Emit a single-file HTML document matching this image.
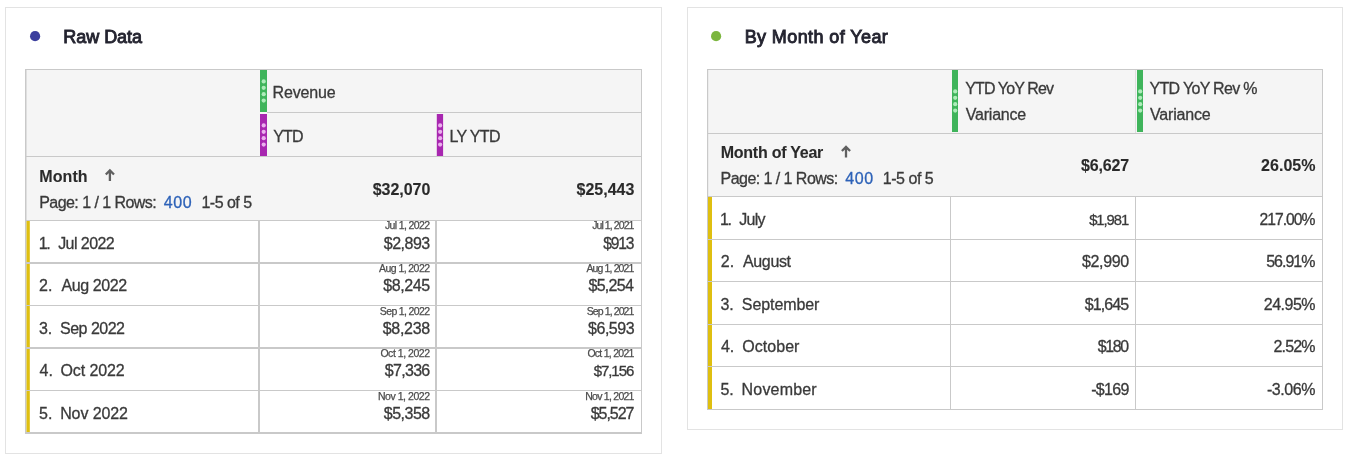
<!DOCTYPE html>
<html lang="en"><head><meta charset="utf-8"><title>Workspace panels</title>
<style>
html,body{margin:0;padding:0;background:#fff;}
body{width:1351px;height:465px;overflow:hidden;font-family:'Liberation Sans', sans-serif;}
svg{display:block;font-family:'Liberation Sans', sans-serif;}
text{white-space:pre;}
</style></head><body>
<svg width="1351" height="465" viewBox="0 0 1351 465">
<rect x="5.5" y="7.5" width="656" height="446" fill="#fff" stroke="#e3e3e3" stroke-width="1"/>
<rect x="687.5" y="7.5" width="655" height="422" fill="#fff" stroke="#e3e3e3" stroke-width="1"/>
<circle cx="35.1" cy="36.2" r="5.1" fill="#3c3f9e"/>
<text x="63.28" y="42.6" font-size="18" font-weight="normal" fill="#242430" textLength="78.80" lengthAdjust="spacing" stroke="#242430" stroke-width="0.9">Raw Data</text>
<circle cx="716.1" cy="36.2" r="5.1" fill="#7cb63f"/>
<text x="744.66" y="42.9" font-size="18" font-weight="normal" fill="#242430" textLength="143.13" lengthAdjust="spacing" stroke="#242430" stroke-width="0.9">By Month of Year</text>
<rect x="25" y="69" width="617" height="152" fill="#f5f5f5" />
<rect x="25" y="69" width="617" height="1" fill="#c9c9c9" />
<rect x="25" y="69" width="1.5" height="365" fill="#c9c9c9" />
<rect x="641" y="69" width="1" height="365" fill="#c9c9c9" />
<rect x="267" y="112" width="375" height="1" fill="#c9c9c9" />
<rect x="25" y="156" width="617" height="1" fill="#c9c9c9" />
<rect x="25" y="220" width="617" height="1" fill="#c9c9c9" />
<rect x="25" y="262" width="617" height="2" fill="#c9c9c9" />
<rect x="25" y="305" width="617" height="1" fill="#c9c9c9" />
<rect x="25" y="347" width="617" height="2" fill="#c9c9c9" />
<rect x="25" y="390" width="617" height="1" fill="#c9c9c9" />
<rect x="25" y="432" width="617" height="2" fill="#c9c9c9" />
<rect x="258" y="221" width="2" height="212" fill="#c9c9c9" />
<rect x="435" y="221" width="2" height="212" fill="#c9c9c9" />
<rect x="26.5" y="221" width="3.3" height="41" fill="#dfbf10" />
<rect x="26.5" y="264" width="3.3" height="41" fill="#dfbf10" />
<rect x="26.5" y="306" width="3.3" height="41" fill="#dfbf10" />
<rect x="26.5" y="349" width="3.3" height="41" fill="#dfbf10" />
<rect x="26.5" y="391" width="3.3" height="41" fill="#dfbf10" />
<rect x="260" y="70" width="7" height="42" fill="#3fb45b" />
<circle cx="263.70" cy="81.40" r="2.1" fill="#aeecba"/>
<circle cx="263.70" cy="87.80" r="2.1" fill="#aeecba"/>
<circle cx="263.70" cy="94.20" r="2.1" fill="#aeecba"/>
<circle cx="263.70" cy="100.60" r="2.1" fill="#aeecba"/>
<rect x="260" y="114" width="7" height="42" fill="#a827b0" />
<circle cx="263.70" cy="125.40" r="2.1" fill="#ebb0ee"/>
<circle cx="263.70" cy="131.80" r="2.1" fill="#ebb0ee"/>
<circle cx="263.70" cy="138.20" r="2.1" fill="#ebb0ee"/>
<circle cx="263.70" cy="144.60" r="2.1" fill="#ebb0ee"/>
<rect x="436.8" y="114" width="6.3" height="42" fill="#a827b0" />
<circle cx="440.15" cy="125.40" r="2.1" fill="#ebb0ee"/>
<circle cx="440.15" cy="131.80" r="2.1" fill="#ebb0ee"/>
<circle cx="440.15" cy="138.20" r="2.1" fill="#ebb0ee"/>
<circle cx="440.15" cy="144.60" r="2.1" fill="#ebb0ee"/>
<text x="272.57" y="97.6" font-size="16" font-weight="normal" fill="#3a3a3a" textLength="63.19" lengthAdjust="spacing" stroke="#3a3a3a" stroke-width="0.3">Revenue</text>
<text x="273.23" y="141.6" font-size="16" font-weight="normal" fill="#3a3a3a" textLength="30.27" lengthAdjust="spacing" stroke="#3a3a3a" stroke-width="0.3">YTD</text>
<text x="449.57" y="141.6" font-size="16" font-weight="normal" fill="#3a3a3a" textLength="50.93" lengthAdjust="spacing" stroke="#3a3a3a" stroke-width="0.3">LY YTD</text>
<text x="39.35" y="181.6" font-size="16" font-weight="bold" fill="#2a2a2a" textLength="48.23" lengthAdjust="spacing" stroke="#2a2a2a" stroke-width="0.1">Month</text>
<path d="M109.9 170.4 V180.9 M105.80000000000001 174.5 L109.9 170.4 L114.0 174.5" fill="none" stroke="#606060" stroke-width="2.3" stroke-linecap="butt" stroke-linejoin="miter"/>
<text x="39.21" y="207.6" font-size="16" font-weight="normal" fill="#3a3a3a" textLength="117.46" lengthAdjust="spacing" stroke="#3a3a3a" stroke-width="0.3">Page: 1 / 1 Rows:</text>
<text x="163.86" y="207.6" font-size="16" font-weight="normal" fill="#2d62b8" textLength="27.72" lengthAdjust="spacing" stroke="#2d62b8" stroke-width="0.3">400</text>
<text x="201.43" y="207.6" font-size="16" font-weight="normal" fill="#3a3a3a" textLength="50.72" lengthAdjust="spacing" stroke="#3a3a3a" stroke-width="0.3">1-5 of 5</text>
<text x="372.66" y="195" font-size="16" font-weight="bold" fill="#2a2a2a" textLength="57.63" lengthAdjust="spacing" stroke="#2a2a2a" stroke-width="0.1">$32,070</text>
<text x="576.50" y="195" font-size="16" font-weight="bold" fill="#2a2a2a" textLength="57.88" lengthAdjust="spacing" stroke="#2a2a2a" stroke-width="0.1">$25,443</text>
<text x="38.73" y="248.8" font-size="16" font-weight="normal" fill="#3a3a3a" stroke="#3a3a3a" stroke-width="0.3">1<tspan dx="-1.5">.</tspan></text>
<text x="58.14" y="248.8" font-size="16" font-weight="normal" fill="#3a3a3a" textLength="56.61" lengthAdjust="spacing" stroke="#3a3a3a" stroke-width="0.3">Jul 2022</text>
<text x="384.96" y="229.2" font-size="10.5" font-weight="normal" fill="#4c4c4c" textLength="45.05" lengthAdjust="spacing" stroke="#4c4c4c" stroke-width="0.25">Jul 1, 2022</text>
<text x="383.87" y="248.8" font-size="16" font-weight="normal" fill="#3a3a3a" textLength="46.34" lengthAdjust="spacing" stroke="#3a3a3a" stroke-width="0.3">$2,893</text>
<text x="592.17" y="229.2" font-size="10.5" font-weight="normal" fill="#4c4c4c" textLength="42.24" lengthAdjust="spacing" stroke="#4c4c4c" stroke-width="0.25">Jul 1, 2021</text>
<text x="603.31" y="248.8" font-size="15.6" font-weight="normal" fill="#3a3a3a" textLength="31.07" lengthAdjust="spacing" stroke="#3a3a3a" stroke-width="0.3">$913</text>
<text x="39.01" y="290.8" font-size="16" font-weight="normal" fill="#3a3a3a" stroke="#3a3a3a" stroke-width="0.3">2.</text>
<text x="61.45" y="290.8" font-size="16" font-weight="normal" fill="#3a3a3a" textLength="65.78" lengthAdjust="spacing" stroke="#3a3a3a" stroke-width="0.3">Aug 2022</text>
<text x="379.09" y="272.2" font-size="10.5" font-weight="normal" fill="#4c4c4c" textLength="50.91" lengthAdjust="spacing" stroke="#4c4c4c" stroke-width="0.25">Aug 1, 2022</text>
<text x="383.14" y="290.8" font-size="16" font-weight="normal" fill="#3a3a3a" textLength="47.00" lengthAdjust="spacing" stroke="#3a3a3a" stroke-width="0.3">$8,245</text>
<text x="586.39" y="272.2" font-size="10.5" font-weight="normal" fill="#4c4c4c" textLength="48.02" lengthAdjust="spacing" stroke="#4c4c4c" stroke-width="0.25">Aug 1, 2021</text>
<text x="588.45" y="290.8" font-size="16" font-weight="normal" fill="#3a3a3a" textLength="45.41" lengthAdjust="spacing" stroke="#3a3a3a" stroke-width="0.3">$5,254</text>
<text x="38.93" y="333.8" font-size="16" font-weight="normal" fill="#3a3a3a" stroke="#3a3a3a" stroke-width="0.3">3.</text>
<text x="60.02" y="333.8" font-size="16" font-weight="normal" fill="#3a3a3a" textLength="64.97" lengthAdjust="spacing" stroke="#3a3a3a" stroke-width="0.3">Sep 2022</text>
<text x="379.82" y="314.7" font-size="10.5" font-weight="normal" fill="#4c4c4c" textLength="50.19" lengthAdjust="spacing" stroke="#4c4c4c" stroke-width="0.25">Sep 1, 2022</text>
<text x="382.75" y="333.8" font-size="16" font-weight="normal" fill="#3a3a3a" textLength="47.45" lengthAdjust="spacing" stroke="#3a3a3a" stroke-width="0.3">$8,238</text>
<text x="586.64" y="314.7" font-size="10.5" font-weight="normal" fill="#4c4c4c" textLength="47.77" lengthAdjust="spacing" stroke="#4c4c4c" stroke-width="0.25">Sep 1, 2021</text>
<text x="588.07" y="333.8" font-size="16" font-weight="normal" fill="#3a3a3a" textLength="46.47" lengthAdjust="spacing" stroke="#3a3a3a" stroke-width="0.3">$6,593</text>
<text x="39.51" y="375.8" font-size="16" font-weight="normal" fill="#3a3a3a" stroke="#3a3a3a" stroke-width="0.3">4.</text>
<text x="60.41" y="375.8" font-size="16" font-weight="normal" fill="#3a3a3a" textLength="64.35" lengthAdjust="spacing" stroke="#3a3a3a" stroke-width="0.3">Oct 2022</text>
<text x="380.41" y="357.2" font-size="10.5" font-weight="normal" fill="#4c4c4c" textLength="49.60" lengthAdjust="spacing" stroke="#4c4c4c" stroke-width="0.25">Oct 1, 2022</text>
<text x="384.87" y="375.8" font-size="16" font-weight="normal" fill="#3a3a3a" textLength="45.34" lengthAdjust="spacing" stroke="#3a3a3a" stroke-width="0.3">$7,336</text>
<text x="587.41" y="357.2" font-size="10.5" font-weight="normal" fill="#4c4c4c" textLength="47.00" lengthAdjust="spacing" stroke="#4c4c4c" stroke-width="0.25">Oct 1, 2021</text>
<text x="593.65" y="375.8" font-size="15.01" font-weight="normal" fill="#3a3a3a" textLength="40.62" lengthAdjust="spacing" stroke="#3a3a3a" stroke-width="0.3">$7,156</text>
<text x="39.04" y="418.8" font-size="16" font-weight="normal" fill="#3a3a3a" stroke="#3a3a3a" stroke-width="0.3">5.</text>
<text x="60.14" y="418.8" font-size="16" font-weight="normal" fill="#3a3a3a" textLength="67.85" lengthAdjust="spacing" stroke="#3a3a3a" stroke-width="0.3">Nov 2022</text>
<text x="377.88" y="399.7" font-size="10.5" font-weight="normal" fill="#4c4c4c" textLength="52.12" lengthAdjust="spacing" stroke="#4c4c4c" stroke-width="0.25">Nov 1, 2022</text>
<text x="383.87" y="418.8" font-size="16" font-weight="normal" fill="#3a3a3a" textLength="46.32" lengthAdjust="spacing" stroke="#3a3a3a" stroke-width="0.3">$5,358</text>
<text x="585.22" y="399.7" font-size="10.5" font-weight="normal" fill="#4c4c4c" textLength="49.19" lengthAdjust="spacing" stroke="#4c4c4c" stroke-width="0.25">Nov 1, 2021</text>
<text x="590.69" y="418.8" font-size="16" font-weight="normal" fill="#3a3a3a" textLength="43.81" lengthAdjust="spacing" stroke="#3a3a3a" stroke-width="0.3">$5,527</text>
<rect x="707" y="69" width="616" height="128" fill="#f5f5f5" />
<rect x="707" y="69" width="616" height="1" fill="#c9c9c9" />
<rect x="707" y="69" width="1.2" height="341" fill="#c9c9c9" />
<rect x="1322" y="69" width="1" height="341" fill="#c9c9c9" />
<rect x="707" y="133" width="616" height="1" fill="#c9c9c9" />
<rect x="707" y="196" width="616" height="1" fill="#c9c9c9" />
<rect x="707" y="239" width="616" height="1" fill="#c9c9c9" />
<rect x="707" y="281" width="616" height="1" fill="#c9c9c9" />
<rect x="707" y="324" width="616" height="1" fill="#c9c9c9" />
<rect x="707" y="366" width="616" height="1" fill="#c9c9c9" />
<rect x="707" y="409" width="616" height="1" fill="#c9c9c9" />
<rect x="950" y="197" width="1" height="213" fill="#c9c9c9" />
<rect x="1135" y="197" width="1" height="213" fill="#c9c9c9" />
<rect x="1135" y="70" width="1" height="63" fill="#dedede" />
<rect x="708" y="197" width="4" height="42" fill="#dfbf10" />
<rect x="708" y="240" width="4" height="41" fill="#dfbf10" />
<rect x="708" y="282" width="4" height="42" fill="#dfbf10" />
<rect x="708" y="325" width="4" height="41" fill="#dfbf10" />
<rect x="708" y="367" width="4" height="42" fill="#dfbf10" />
<rect x="952" y="70" width="6" height="62" fill="#3fb45b" />
<circle cx="955.20" cy="91.40" r="2.1" fill="#aeecba"/>
<circle cx="955.20" cy="97.80" r="2.1" fill="#aeecba"/>
<circle cx="955.20" cy="104.20" r="2.1" fill="#aeecba"/>
<circle cx="955.20" cy="110.60" r="2.1" fill="#aeecba"/>
<rect x="1137" y="70" width="6" height="62" fill="#3fb45b" />
<circle cx="1140.20" cy="91.40" r="2.1" fill="#aeecba"/>
<circle cx="1140.20" cy="97.80" r="2.1" fill="#aeecba"/>
<circle cx="1140.20" cy="104.20" r="2.1" fill="#aeecba"/>
<circle cx="1140.20" cy="110.60" r="2.1" fill="#aeecba"/>
<text x="965.23" y="94.4" font-size="16" font-weight="normal" fill="#3a3a3a" textLength="88.75" lengthAdjust="spacing" stroke="#3a3a3a" stroke-width="0.3">YTD YoY Rev</text>
<text x="965.66" y="120.4" font-size="16" font-weight="normal" fill="#3a3a3a" textLength="60.58" lengthAdjust="spacing" stroke="#3a3a3a" stroke-width="0.3">Variance</text>
<text x="1149.50" y="94.4" font-size="16" font-weight="normal" fill="#3a3a3a" textLength="108.00" lengthAdjust="spacing" stroke="#3a3a3a" stroke-width="0.3">YTD YoY Rev %</text>
<text x="1149.98" y="120.4" font-size="16" font-weight="normal" fill="#3a3a3a" textLength="60.78" lengthAdjust="spacing" stroke="#3a3a3a" stroke-width="0.3">Variance</text>
<text x="720.70" y="158.0" font-size="16" font-weight="bold" fill="#2a2a2a" textLength="102.58" lengthAdjust="spacing" stroke="#2a2a2a" stroke-width="0.1">Month of Year</text>
<path d="M846 146.9 V157.4 M841.9 151.0 L846 146.9 L850.1 151.0" fill="none" stroke="#606060" stroke-width="2.3" stroke-linecap="butt" stroke-linejoin="miter"/>
<text x="720.57" y="183.6" font-size="16" font-weight="normal" fill="#3a3a3a" textLength="117.58" lengthAdjust="spacing" stroke="#3a3a3a" stroke-width="0.3">Page: 1 / 1 Rows:</text>
<text x="845.25" y="183.6" font-size="16" font-weight="normal" fill="#2d62b8" textLength="27.90" lengthAdjust="spacing" stroke="#2d62b8" stroke-width="0.3">400</text>
<text x="882.82" y="183.6" font-size="16" font-weight="normal" fill="#3a3a3a" textLength="50.93" lengthAdjust="spacing" stroke="#3a3a3a" stroke-width="0.3">1-5 of 5</text>
<text x="1081.02" y="170.8" font-size="16" font-weight="bold" fill="#2a2a2a" textLength="48.26" lengthAdjust="spacing" stroke="#2a2a2a" stroke-width="0.1">$6,627</text>
<text x="1261.02" y="170.8" font-size="16" font-weight="bold" fill="#2a2a2a" textLength="54.48" lengthAdjust="spacing" stroke="#2a2a2a" stroke-width="0.1">26.05%</text>
<text x="720.12" y="224.6" font-size="16" font-weight="normal" fill="#3a3a3a" stroke="#3a3a3a" stroke-width="0.3">1<tspan dx="-1.5">.</tspan></text>
<text x="739.36" y="224.6" font-size="16" font-weight="normal" fill="#3a3a3a" textLength="26.20" lengthAdjust="spacing" stroke="#3a3a3a" stroke-width="0.3">July</text>
<text x="1089.14" y="224.6" font-size="14.81" font-weight="normal" fill="#3a3a3a" textLength="40.01" lengthAdjust="spacing" stroke="#3a3a3a" stroke-width="0.3">$1,981</text>
<text x="1259.50" y="224.6" font-size="15.69" font-weight="normal" fill="#3a3a3a" textLength="56.00" lengthAdjust="spacing" stroke="#3a3a3a" stroke-width="0.3">217.00%</text>
<text x="720.78" y="266.8" font-size="16" font-weight="normal" fill="#3a3a3a" stroke="#3a3a3a" stroke-width="0.3">2.</text>
<text x="743.03" y="266.8" font-size="16" font-weight="normal" fill="#3a3a3a" textLength="47.96" lengthAdjust="spacing" stroke="#3a3a3a" stroke-width="0.3">August</text>
<text x="1082.07" y="266.8" font-size="16" font-weight="normal" fill="#3a3a3a" textLength="47.08" lengthAdjust="spacing" stroke="#3a3a3a" stroke-width="0.3">$2,990</text>
<text x="1266.16" y="266.8" font-size="16" font-weight="normal" fill="#3a3a3a" textLength="49.34" lengthAdjust="spacing" stroke="#3a3a3a" stroke-width="0.3">56.91%</text>
<text x="720.44" y="309.8" font-size="16" font-weight="normal" fill="#3a3a3a" stroke="#3a3a3a" stroke-width="0.3">3.</text>
<text x="741.82" y="309.8" font-size="16" font-weight="normal" fill="#3a3a3a" textLength="77.61" lengthAdjust="spacing" stroke="#3a3a3a" stroke-width="0.3">September</text>
<text x="1084.87" y="309.8" font-size="16" font-weight="normal" fill="#3a3a3a" textLength="44.27" lengthAdjust="spacing" stroke="#3a3a3a" stroke-width="0.3">$1,645</text>
<text x="1263.87" y="309.8" font-size="16" font-weight="normal" fill="#3a3a3a" textLength="51.63" lengthAdjust="spacing" stroke="#3a3a3a" stroke-width="0.3">24.95%</text>
<text x="720.96" y="351.8" font-size="16" font-weight="normal" fill="#3a3a3a" stroke="#3a3a3a" stroke-width="0.3">4.</text>
<text x="742.27" y="351.8" font-size="16" font-weight="normal" fill="#3a3a3a" textLength="57.16" lengthAdjust="spacing" stroke="#3a3a3a" stroke-width="0.3">October</text>
<text x="1097.69" y="351.8" font-size="15.87" font-weight="normal" fill="#3a3a3a" textLength="31.50" lengthAdjust="spacing" stroke="#3a3a3a" stroke-width="0.3">$180</text>
<text x="1273.50" y="351.8" font-size="16" font-weight="normal" fill="#3a3a3a" textLength="42.00" lengthAdjust="spacing" stroke="#3a3a3a" stroke-width="0.3">2.52%</text>
<text x="720.45" y="394.6" font-size="16" font-weight="normal" fill="#3a3a3a" stroke="#3a3a3a" stroke-width="0.3">5.</text>
<text x="741.57" y="394.6" font-size="16" font-weight="normal" fill="#3a3a3a" textLength="75.11" lengthAdjust="spacing" stroke="#3a3a3a" stroke-width="0.3">November</text>
<text x="1091.24" y="394.6" font-size="16" font-weight="normal" fill="#3a3a3a" textLength="38.10" lengthAdjust="spacing" stroke="#3a3a3a" stroke-width="0.3">-$169</text>
<text x="1266.96" y="394.6" font-size="16" font-weight="normal" fill="#3a3a3a" textLength="48.54" lengthAdjust="spacing" stroke="#3a3a3a" stroke-width="0.3">-3.06%</text>
</svg>
</body></html>
